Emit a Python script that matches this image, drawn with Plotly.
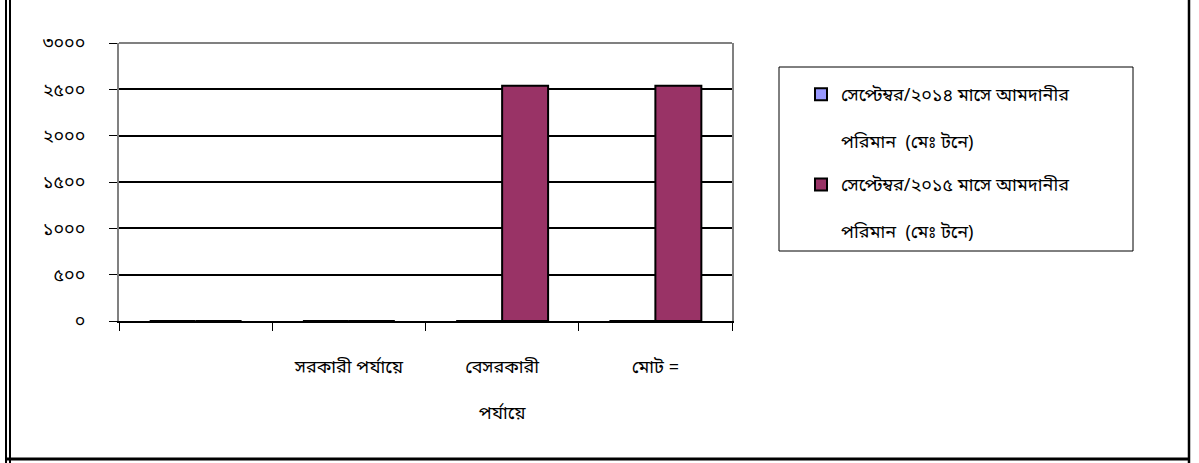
import plotly.graph_objects as go

# ---- data ----
categories = [" ", "সরকারী পর্যায়ে", "বেসরকারী পর্যায়ে", "মোট ="]
category_labels = [" ", "সরকারী পর্যায়ে", "বেসরকারী<br><br>পর্যায়ে", "মোট ="]
series_2014_name = "সেপ্টেম্বর/২০১৪ মাসে আমদানীর<br><br>পরিমান  (মেঃ টনে)"
series_2015_name = "সেপ্টেম্বর/২০১৫ মাসে আমদানীর<br><br>পরিমান  (মেঃ টনে)"
values_2014 = [0, 0, 0, 0]
values_2015 = [0, 0, 2540, 2540]
y_tickvals = [0, 500, 1000, 1500, 2000, 2500, 3000]
y_ticktext = ["০", "৫০০", "১০০০", "১৫০০", "২০০০", "২৫০০", "৩০০০"]

W, H = 1199, 463
L, R, T, B = 119, 732, 43, 321  # plot area in px


def px_x(px):
    return (px - L) / (R - L)


def px_y(py):
    return (B - py) / (B - T)


FONT = "Noto Sans Bengali, Noto Sans, sans-serif"

fig = go.Figure()
fig.add_trace(go.Bar(
    x=categories, y=values_2014, name=series_2014_name,
    marker=dict(color="#9999FF", line=dict(color="black", width=2)),
    legendgroup="a",
))
fig.add_trace(go.Bar(
    x=categories, y=values_2015, name=series_2015_name,
    marker=dict(color="#993366", line=dict(color="black", width=2)),
    legendgroup="b",
))

shapes = [
    # plot area top border
    dict(type="line", xref="paper", yref="paper", x0=0, x1=1, y0=1, y1=1,
         line=dict(color="#808080", width=2)),
    # legend box
    dict(type="rect", xref="paper", yref="paper",
         x0=px_x(779), x1=px_x(1133), y0=px_y(251), y1=px_y(67),
         line=dict(color="black", width=1)),
    # outer frame
    dict(type="line", xref="paper", yref="paper", x0=px_x(6), x1=px_x(6),
         y0=px_y(470), y1=px_y(-10), line=dict(color="black", width=2)),
    dict(type="line", xref="paper", yref="paper", x0=px_x(10), x1=px_x(10),
         y0=px_y(470), y1=px_y(-10), line=dict(color="black", width=2)),
    dict(type="line", xref="paper", yref="paper", x0=px_x(1189), x1=px_x(1189),
         y0=px_y(470), y1=px_y(-10), line=dict(color="black", width=2.5)),
    dict(type="line", xref="paper", yref="paper", x0=px_x(5), x1=px_x(1190),
         y0=px_y(459), y1=px_y(459), line=dict(color="black", width=3)),
]

fig.update_layout(
    width=W, height=H,
    margin=dict(l=L, r=W - R, t=T, b=H - B, pad=0),
    paper_bgcolor="white", plot_bgcolor="white",
    barmode="group", bargap=0.4, bargroupgap=0,
    font=dict(family=FONT, color="black", size=16),
    showlegend=True,
    legend=dict(
        x=px_x(801), y=px_y(76), xanchor="left", yanchor="top",
        bgcolor="rgba(0,0,0,0)", borderwidth=0,
        valign="top", tracegroupgap=17, traceorder="grouped",
        font=dict(family=FONT, size=18, color="black"),
    ),
    shapes=shapes,
    xaxis=dict(
        type="category", categoryorder="array", categoryarray=categories,
        tickvals=categories, ticktext=category_labels,
        tickson="boundaries", ticks="outside", ticklen=8, tickcolor="black",
        showline=True, linecolor="black", linewidth=2,
        showgrid=False, zeroline=False,
        tickfont=dict(family=FONT, size=18, color="black"),
        ticklabelstandoff=28,
    ),
    yaxis=dict(
        range=[0, 3000], tickvals=y_tickvals, ticktext=y_ticktext,
        ticks="outside", ticklen=8, tickcolor="black",
        showline=True, linecolor="#808080", linewidth=2, mirror=True,
        showgrid=True, gridcolor="black", gridwidth=1.5,
        zeroline=False,
        tickfont=dict(family=FONT, size=18, color="black"),
        ticklabelstandoff=20,
    ),
)

fig.write_html("out.html", config={"displayModeBar": False},
               post_script="document.body.style.margin='0px';")
